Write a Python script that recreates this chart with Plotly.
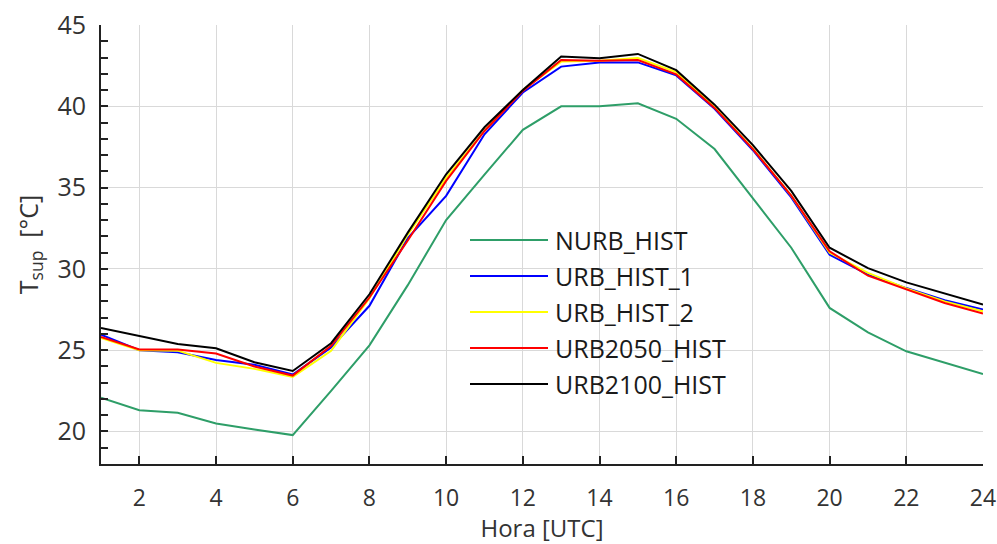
import plotly.graph_objects as go

hours = list(range(1, 25))
series_names = ["NURB_HIST", "URB_HIST_1", "URB_HIST_2", "URB2050_HIST", "URB2100_HIST"]
series_colors = ["#2e9e68", "#0000ff", "#ffff00", "#ff0000", "#000000"]

nurb_hist = [22.07, 21.31, 21.15, 20.49, 20.12, 19.78, 22.5, 25.3, 29.0, 33.0, 35.8, 38.55,
             40.0, 40.0, 40.19, 39.23, 37.37, 34.33, 31.3, 27.6, 26.1, 24.93, 24.22, 23.54]
urb_hist_1 = [25.96, 25.0, 24.87, 24.4, 24.1, 23.5, 25.16, 27.73, 31.9, 34.49, 38.28, 40.85,
              42.44, 42.7, 42.7, 41.9, 39.85, 37.3, 34.4, 30.87, 29.65, 28.82, 28.07, 27.5]
urb_hist_2 = [25.75, 25.0, 24.97, 24.22, 23.85, 23.36, 24.96, 28.2, 32.1, 35.6, 38.5, 41.0,
              42.75, 42.8, 42.97, 42.1, 39.95, 37.4, 34.5, 31.0, 29.75, 28.8, 28.0, 27.4]
urb2050_hist = [25.81, 25.04, 25.04, 24.8, 24.0, 23.44, 25.27, 28.24, 31.75, 35.41, 38.48, 40.95,
                42.85, 42.8, 42.85, 41.96, 39.9, 37.37, 34.5, 31.08, 29.58, 28.72, 27.9, 27.25]
urb2100_hist = [26.37, 25.86, 25.38, 25.12, 24.26, 23.72, 25.43, 28.44, 32.23, 35.82, 38.71, 41.0,
                43.06, 42.95, 43.22, 42.22, 40.1, 37.61, 34.8, 31.3, 30.05, 29.17, 28.48, 27.8]
series_values = [nurb_hist, urb_hist_1, urb_hist_2, urb2050_hist, urb2100_hist]

x_ticks = list(range(2, 25, 2))
y_ticks = [20, 25, 30, 35, 40, 45]

FONT = "Open Sans"
TXT = "#333333"

fig = go.Figure()
for name, color, vals in zip(series_names, series_colors, series_values):
    fig.add_trace(go.Scatter(x=hours, y=vals, mode="lines", name=name,
                             line=dict(color=color, width=2), showlegend=False))

# manual legend (long line samples like the original)
L, R, T, B = 101, 14, 25, 80
W, H = 997 - L - R, 544 - T - B
def px2paper(px, py):
    return (px - L) / W, (544 - B - py) / H

shapes = []
annotations = []
row_y0, row_dy = 240, 36
for i, (name, color) in enumerate(zip(series_names, series_colors)):
    py = row_y0 + i * row_dy
    x0, y0 = px2paper(470, py)
    x1, _ = px2paper(548, py)
    xt, _ = px2paper(553, py)
    shapes.append(dict(type="line", xref="paper", yref="paper", x0=x0, x1=x1, y0=y0, y1=y0,
                       line=dict(color=color, width=2)))
    annotations.append(dict(xref="paper", yref="paper", x=xt, y=y0, text=name, showarrow=False,
                            xanchor="left", yanchor="middle",
                            font=dict(family=FONT, size=25, color="#1a1a1a")))

fig.update_layout(
    width=997, height=544,
    margin=dict(l=L, r=R, t=T, b=B),
    paper_bgcolor="white", plot_bgcolor="white",
    font=dict(family=FONT, color=TXT),
    shapes=shapes, annotations=annotations,
)
fig.update_xaxes(
    range=[1, 24], tickvals=x_ticks, ticktext=[str(v) for v in x_ticks],
    ticks="inside", ticklen=8, tickwidth=2, tickcolor="#222",
    showline=True, linecolor="#222", linewidth=2,
    showgrid=True, gridcolor="#d9d9d9", gridwidth=1, zeroline=False,
    tickfont=dict(family=FONT, size=23, color=TXT), ticklabelstandoff=12,
    automargin=False,
    title=dict(text="Hora [UTC]", font=dict(family=FONT, size=24, color=TXT), standoff=6),
)
fig.update_yaxes(
    range=[18, 45], tickvals=y_ticks, ticktext=[str(v) for v in y_ticks],
    ticks="inside", ticklen=7, tickwidth=2, tickcolor="#222",
    minor=dict(dtick=1, ticks="inside", ticklen=7, tickwidth=2, tickcolor="#222", showgrid=False),
    showline=True, linecolor="#222", linewidth=2,
    showgrid=True, gridcolor="#d9d9d9", gridwidth=1, zeroline=False,
    tickfont=dict(family=FONT, size=25, color=TXT), ticklabelstandoff=8,
    automargin=False,
    title=dict(text="T<sub>sup</sub>  [°C]", font=dict(family=FONT, size=25, color=TXT), standoff=12),
)

fig.write_html("out.html", config={"displayModeBar": False},
               post_script="document.body.style.margin='0';document.body.style.overflow='hidden';")
